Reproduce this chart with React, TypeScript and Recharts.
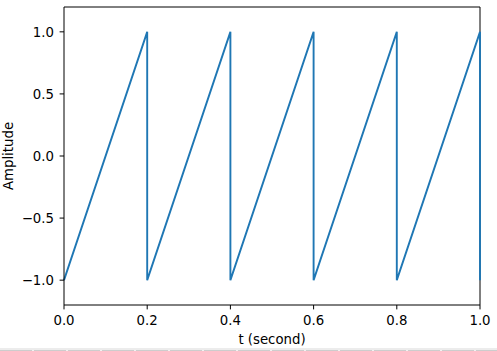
import { LineChart, Line, XAxis, YAxis, ReferenceLine } from "recharts";

// sawtooth corners (period 0.2 s)
const tValues = [0, 0.2, 0.2, 0.4, 0.4, 0.6, 0.6, 0.8, 0.8, 1.0, 1.0];
const amplitude = [-1, 1, -1, 1, -1, 1, -1, 1, -1, 1, -1];

const xTicks = [0, 0.2, 0.4, 0.6, 0.8, 1.0];
const yTicks = [-1, -0.5, 0, 0.5, 1];

const data = tValues.map((t, i) => ({ t, y: amplitude[i] }));

const font = "DejaVu Sans";
const fontSize = 13.3;
const tickStyle = { fontSize, fontFamily: font, fill: "#000" };

const fmt = (v: number) => v.toFixed(1).replace("-", "\u2212");

export default function App() {
  return (
    <div style={{ position: "absolute", left: 0, top: 0, width: 497, height: 351 }}>
      <LineChart
        width={497}
        height={351}
        data={data}
        margin={{ top: 7, right: 17, bottom: 0, left: 0 }}
      >
        <XAxis
          dataKey="t"
          type="number"
          domain={[0, 1]}
          ticks={xTicks}
          tickFormatter={fmt}
          height={46}
          tick={tickStyle}
          tickSize={4.4}
          tickMargin={6}
          stroke="#000"
          label={{
            value: "t (second)",
            position: "insideBottom",
            offset: 7,
            style: { fontSize, fontFamily: font, fill: "#000" },
          }}
        />
        <YAxis
          type="number"
          domain={[-1.2, 1.2]}
          ticks={yTicks}
          tickFormatter={fmt}
          width={64}
          tick={tickStyle}
          tickSize={4.4}
          tickMargin={5.6}
          stroke="#000"
          allowDataOverflow
          label={{
            value: "Amplitude",
            angle: -90,
            position: "insideLeft",
            offset: 8,
            style: { fontSize, fontFamily: font, fill: "#000", textAnchor: "middle" },
          }}
        />
        <ReferenceLine y={1.2} stroke="#000" />
        <ReferenceLine x={1} stroke="#000" />
        <Line
          type="linear"
          dataKey="y"
          stroke="#1f77b4"
          strokeWidth={1.9}
          dot={false}
          isAnimationActive={false}
        />
      </LineChart>
      <div
        style={{
          position: "absolute",
          left: 0,
          top: 348,
          width: 497,
          height: 3,
          background: "#ececec",
        }}
      />
      <div
        style={{
          position: "absolute",
          left: 0,
          top: 350,
          width: 497,
          height: 1,
          background:
            "repeating-linear-gradient(to right, #cdcdcd 0px, #cdcdcd 32px, #f2f2f2 32px, #f2f2f2 34px)",
        }}
      />
    </div>
  );
}
